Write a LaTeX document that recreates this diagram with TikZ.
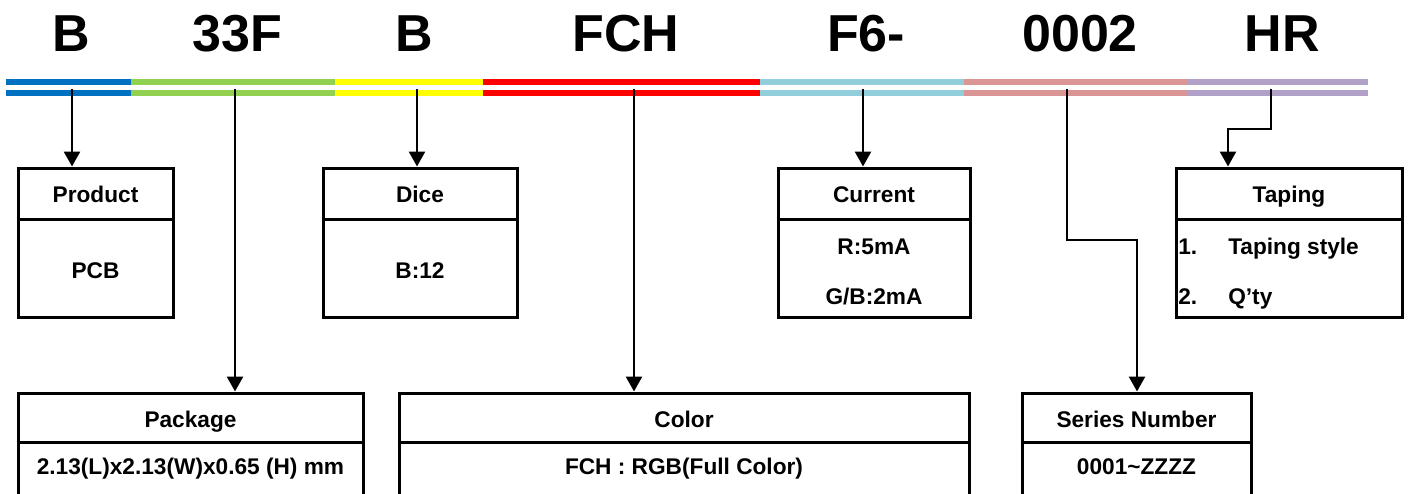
\documentclass[tikz,border=0pt]{standalone}
\usepackage{fontspec}
\setmainfont{Liberation Sans}
\usetikzlibrary{arrows.meta,fit}
\definecolor{cblue}{HTML}{0070C0}
\definecolor{cgreen}{HTML}{92D050}
\definecolor{cyellow}{HTML}{FFFF00}
\definecolor{cred}{HTML}{FF0000}
\definecolor{cltblue}{HTML}{92CDDC}
\definecolor{cpink}{HTML}{DA9694}
\definecolor{cpurple}{HTML}{B1A0C7}
\tikzset{
  code/.style={font=\fontsize{39}{44}\selectfont\bfseries, inner sep=0pt, anchor=base},
  bar/.style={line width=4.5pt},
  box/.style={draw, line width=2.25pt, inner sep=0pt},
  divider/.style={line width=2.25pt},
  lbl/.style={font=\fontsize{17}{20}\selectfont\bfseries, inner sep=0pt, anchor=base},
  lbll/.style={lbl, anchor=base west},
  conn/.style={line width=2pt, -{Triangle[length=11.25pt,width=12pt]}},
}
\begin{document}
\begin{tikzpicture}[x=0.75pt,y=-0.75pt]
\useasboundingbox (0,0) rectangle (1408,493);
\clip (0,0) rectangle (1408,493);
% code letters
\node[code] (cB1) at (71,51) {B};
\node[code] (c33F) at (237,51) {33F};
\node[code] (cB2) at (414,51) {B};
\node[code] (cFCH) at (626,51) {FCH};
\node[code] (cF6) at (866,51) {F6-};
\node[code] (c0002) at (1080,51) {0002};
\node[code] (cHR) at (1282,51) {HR};
% colour bars
\foreach \yy in {82,93}{
  \draw[bar,cblue] (6,\yy) -- (131,\yy);
  \draw[bar,cgreen] (131,\yy) -- (335,\yy);
  \draw[bar,cyellow] (335,\yy) -- (483,\yy);
  \draw[bar,cred] (483,\yy) -- (760,\yy);
  \draw[bar,cltblue] (760,\yy) -- (964,\yy);
  \draw[bar,cpink] (964,\yy) -- (1187,\yy);
  \draw[bar,cpurple] (1187,\yy) -- (1368,\yy);
}
% boxes, top row
\node[box, fit={(18,168) (173,317)}] (prod) {};
\node[box, fit={(323,168) (517,317)}] (dice) {};
\node[box, fit={(778,168) (970,317)}] (curr) {};
\node[box, fit={(1176,168) (1402,317)}] (tap) {};
\foreach \b in {prod,dice,curr,tap}{
  \draw[divider] (\b.west |- 0,219) -- (\b.east |- 0,219);
}
% boxes, bottom row
\node[box, fit={(18,393) (363,520)}] (pkg) {};
\node[box, fit={(399,393) (969,520)}] (col) {};
\node[box, fit={(1022,393) (1251,520)}] (ser) {};
\foreach \b in {pkg,col,ser}{
  \draw[divider] (\b.west |- 0,442) -- (\b.east |- 0,442);
}
% labels
\node[lbl] (prodH) at (prod.center |- 0,202) {Product};
\node[lbl] (prodT) at (prod.center |- 0,278) {PCB};
\node[lbl] (diceH) at (dice.center |- 0,202) {Dice};
\node[lbl] (diceT) at (dice.center |- 0,278) {B:12};
\node[lbl] (currH) at (curr.center |- 0,202) {Current};
\node[lbl] (currT1) at (curr.center |- 0,254) {R:5mA};
\node[lbl] (currT2) at (curr.center |- 0,304) {G/B:2mA};
\node[lbl] (tapH) at (tap.center |- 0,202) {Taping};
\node[lbll] (tapN1) at (1178,254) {1.};
\node[lbll] (tapT1) at (1228,254) {Taping style};
\node[lbll] (tapN2) at (1178,304) {2.};
\node[lbll] (tapT2) at (1228,304) {Q’ty};
\node[lbl] (pkgH) at (pkg.center |- 0,427) {Package};
\node[lbl] (pkgT) at (pkg.center |- 0,474) {2.13(L)x2.13(W)x0.65 (H) mm};
\node[lbl] (colH) at (col.center |- 0,427) {Color};
\node[lbl] (colT) at (col.center |- 0,474) {FCH : RGB(Full Color)};
\node[lbl] (serH) at (ser.center |- 0,427) {Series Number};
\node[lbl] (serT) at (ser.center |- 0,474) {0001\textasciitilde ZZZZ};
% connector sources
\coordinate (s1) at (72,89);
\coordinate (s2) at (235,89);
\coordinate (s3) at (417,89);
\coordinate (s4) at (634,89);
\coordinate (s5) at (863,89);
\coordinate (s6) at (1067,89);
\coordinate (s7) at (1271,89);
\coordinate (k6) at (1067,240);
\coordinate (k7) at (1271,129);
% connectors
\draw[conn] (s1) -- (s1 |- prod.north);
\draw[conn] (s2) -- (s2 |- pkg.north);
\draw[conn] (s3) -- (s3 |- dice.north);
\draw[conn] (s4) -- (s4 |- col.north);
\draw[conn] (s5) -- (s5 |- curr.north);
\draw[conn] (s6) -- (k6) -- (1137,240) -- (1137,0 |- ser.north);
\draw[conn] (s7) -- (k7) -- (1228,129) -- (1228,0 |- tap.north);
\end{tikzpicture}
\end{document}
